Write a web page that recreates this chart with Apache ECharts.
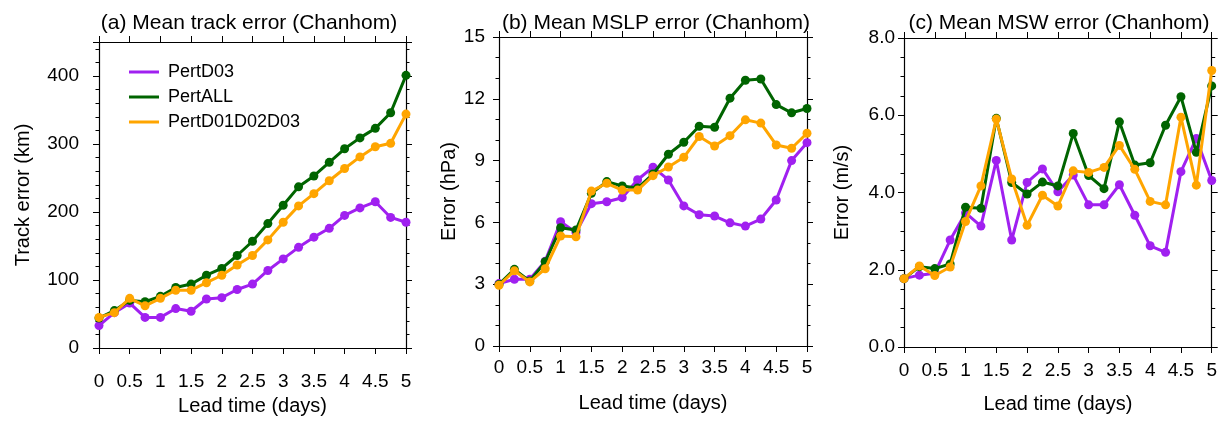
<!DOCTYPE html>
<html>
<head>
<meta charset="utf-8">
<script src="https://cdn.jsdelivr.net/npm/echarts@6/dist/echarts.min.js"></script>
<style>
html,body{margin:0;padding:0;background:#fff;}
#chart{width:1220px;height:425px;}
</style>
</head>
<body>
<div id="chart"></div>
<script>
// Lead time (days), every 6 h
const leadDays = [0,0.25,0.5,0.75,1,1.25,1.5,1.75,2,2.25,2.5,2.75,3,3.25,3.5,3.75,4,4.25,4.5,4.75,5];
const seriesNames = ['PertD03','PertALL','PertD01D02D03'];
const panelTitles = ['(a) Mean track error (Chanhom)','(b) Mean MSLP error (Chanhom)','(c) Mean MSW error (Chanhom)'];
const yNames = ['Track error (km)','Error (hPa)','Error (m/s)'];
const xName = 'Lead time (days)';

// (a) track error (km)
const trackD03 = [33,52,66,45,45,58,54,72,74,86,94,114,131,148,163,176,195,206,215,192,185];
const trackALL = [44,55,70,68,76,89,94,107,117,136,157,183,210,237,253,273,293,309,323,346,401];
const trackD01D02D03 = [45,52,73,62,73,85,85,96,107,122,136,159,185,209,227,246,264,281,296,301,344];

// (b) MSLP error (hPa)
const mslpD03 = [3.03,3.24,3.24,4.12,6.03,5.51,6.91,7.0,7.2,8.07,8.68,8.06,6.8,6.37,6.31,5.98,5.82,6.16,7.09,9.0,9.87];
const mslpALL = [2.99,3.72,3.15,4.09,5.74,5.63,7.41,7.98,7.77,7.67,8.35,9.31,9.89,10.67,10.62,12.03,12.9,12.96,11.72,11.32,11.53];
const mslpD01D02D03 = [2.95,3.65,3.11,3.75,5.34,5.3,7.52,7.9,7.57,7.57,8.27,8.69,9.16,10.17,9.71,10.21,10.98,10.82,9.76,9.6,10.33];

// (c) MSW error (m/s)
const mswD03 = [1.77,1.86,1.91,2.77,3.47,3.13,4.83,2.77,4.26,4.61,4.02,4.45,3.68,3.68,4.2,3.41,2.62,2.45,4.54,5.4,4.31];
const mswALL = [1.77,2.08,2.03,2.15,3.62,3.59,5.92,4.26,3.96,4.27,4.17,5.53,4.44,4.1,5.83,4.71,4.77,5.74,6.48,5.04,6.76];
const mswD01D02D03 = [1.77,2.1,1.85,2.07,3.25,4.17,5.9,4.35,3.15,3.93,3.65,4.56,4.52,4.65,5.22,4.6,3.77,3.68,5.95,4.19,7.16];

const panelData = [
  [trackD03, trackALL, trackD01D02D03],
  [mslpD03, mslpALL, mslpD01D02D03],
  [mswD03, mswALL, mswD01D02D03]
];
const colors = ['#A020F0','#006400','#FFA500'];

const FONT = 'Liberation Sans, Arial, Helvetica, sans-serif';

const grids = [
  {left: 99, top: 42, width: 307, height: 306},
  {left: 499, top: 37, width: 308, height: 309},
  {left: 904, top: 38, width: 309, height: 309}
];
const yCfg = [
  {min:0, max:450, interval:100, minorSplit:5, fmt: v => (v > 400 ? '' : String(v)), labelMargin: 20, nameGap: 66},
  {min:0, max:15, interval:3, minorSplit:3, fmt: v => String(v), labelMargin: 14, nameGap: 37},
  {min:0, max:8, interval:2, minorSplit:4, fmt: v => v.toFixed(1), labelMargin: 9, nameGap: 52}
];
const xCfg = [
  {labelMargin: 24, nameGap: 48},
  {labelMargin: 12, nameGap: 47},
  {labelMargin: 14, nameGap: 47}
];
const titleCenters = [244, 651, 1054];

const axisLine = {show: true, onZero: false, lineStyle: {color: '#000', width: 1.2}};
const tickMajor = {show: true, inside: false, length: 6, lineStyle: {color: '#000', width: 1}};

const xAxes = [], yAxes = [], series = [], titles = [];
grids.forEach((g, i) => {
  titles.push({
    text: panelTitles[i], left: titleCenters[i], top: 8, textAlign: 'center',
    textStyle: {fontFamily: FONT, fontSize: 21, fontWeight: 'normal', color: '#000'}
  });
  xAxes.push({
    type: 'value', gridIndex: i, position: 'bottom', min: 0, max: 5, interval: 0.5,
    axisLine, axisTick: tickMajor, splitLine: {show: false},
    axisLabel: {show: true, margin: xCfg[i].labelMargin, fontFamily: FONT, fontSize: 19, color: '#000',
      showMinLabel: true, showMaxLabel: true, hideOverlap: false},
    name: xName, nameLocation: 'middle', nameGap: xCfg[i].nameGap,
    nameTextStyle: {fontFamily: FONT, fontSize: 20, color: '#000'}
  });
  xAxes.push({
    type: 'value', gridIndex: i, position: 'top', min: 0, max: 5, interval: 0.5,
    axisLine, axisTick: tickMajor, splitLine: {show: false}, axisLabel: {show: false}
  });
  const yc = yCfg[i];
  yAxes.push({
    type: 'value', gridIndex: i, position: 'left', min: yc.min, max: yc.max, interval: yc.interval,
    axisLine, axisTick: tickMajor, splitLine: {show: false},
    minorTick: {show: true, splitNumber: yc.minorSplit, length: 3.5, lineStyle: {color: '#000', width: 1}},
    minorSplitLine: {show: false},
    axisLabel: {show: true, margin: yc.labelMargin, fontFamily: FONT, fontSize: 19, color: '#000', formatter: yc.fmt,
      showMinLabel: true, showMaxLabel: true},
    name: yNames[i], nameLocation: 'middle', nameGap: yc.nameGap,
    nameTextStyle: {fontFamily: FONT, fontSize: 20, color: '#000'}
  });
  yAxes.push({
    type: 'value', gridIndex: i, position: 'right', min: yc.min, max: yc.max, interval: yc.interval,
    axisLine, axisTick: tickMajor, splitLine: {show: false},
    minorTick: {show: true, splitNumber: yc.minorSplit, length: 3.5, lineStyle: {color: '#000', width: 1}},
    axisLabel: {show: false}
  });
  panelData[i].forEach((vals, k) => {
    series.push({
      name: seriesNames[k], type: 'line', xAxisIndex: i * 2, yAxisIndex: i * 2,
      data: leadDays.map((d, j) => [d, vals[j]]),
      symbol: 'circle', symbolSize: 9, showSymbol: true,
      lineStyle: {color: colors[k], width: 3},
      itemStyle: {color: colors[k], borderWidth: 0},
      z: 3 + k, animation: false, clip: false
    });
  });
});

const chart = echarts.init(document.getElementById('chart'), null, {renderer: 'canvas'});
chart.setOption({
  animation: false,
  backgroundColor: '#fff',
  color: colors,
  title: titles,
  grid: grids.map(g => Object.assign({containLabel: false}, g)),
  xAxis: xAxes,
  yAxis: yAxes,
  legend: {
    data: seriesNames.map((n, k) => ({name: n, icon: 'rect', itemStyle: {color: colors[k]}})),
    orient: 'vertical', left: 129, top: 63, padding: 0, itemWidth: 30, itemHeight: 3, itemGap: 7,
    selectedMode: false,
    textStyle: {fontFamily: FONT, fontSize: 18, color: '#000', lineHeight: 18, padding: [0, 0, 0, 4]}
  },
  series
});
</script>
</body>
</html>
